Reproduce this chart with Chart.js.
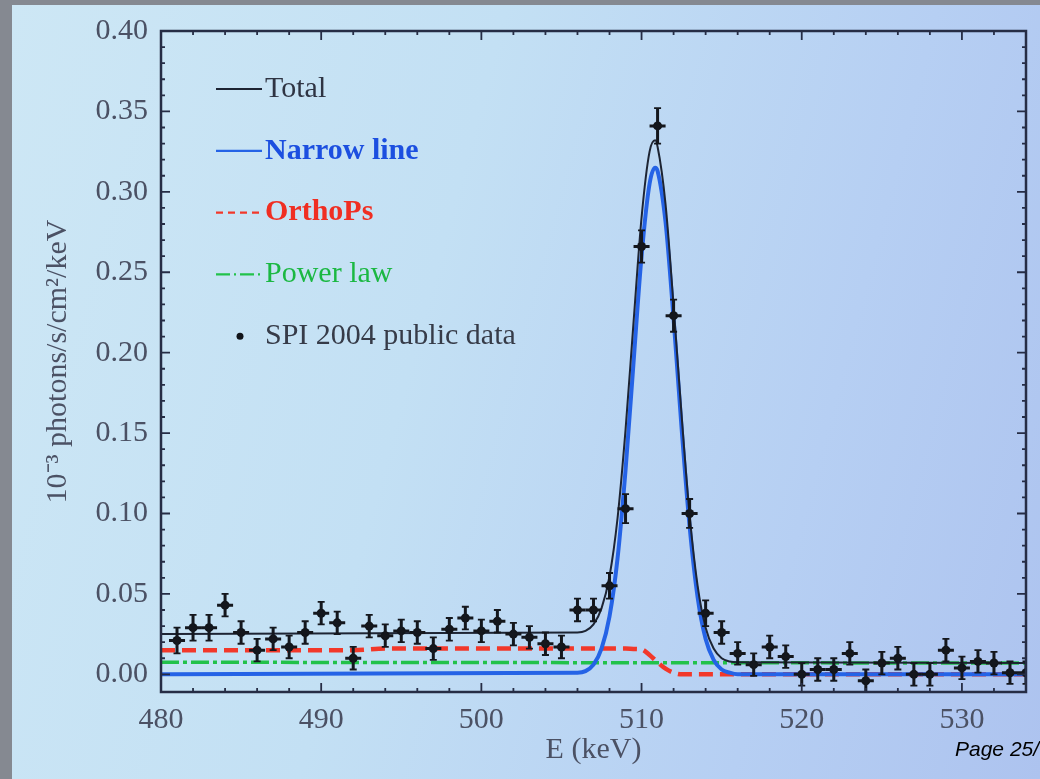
<!DOCTYPE html>
<html lang="en">
<head>
    <meta charset="UTF-8">
    <title>SPI 511 keV line spectrum</title>
    <script src="https://cdn.jsdelivr.net/npm/chart.js"></script>
    <style>
        body {
            margin: 0;
            width: 1040px;
            height: 779px;
            overflow: hidden;
            position: relative;
            background-color: #858991;
        }
        .slide {
            position: absolute;
            left: 12px;
            top: 5px;
            right: 0;
            bottom: 0;
            background: linear-gradient(105deg, #cde7f5 0%, #c3e0f4 40%, #b6cff3 75%, #adc3ef 100%);
        }
        #spectrum {
            position: absolute;
            left: 0;
            top: 0;
        }
        .page {
            position: absolute;
            left: 955px;
            top: 737px;
            font: italic 21px 'Liberation Sans', Arial, sans-serif;
            line-height: 24px;
            color: #000000;
            white-space: nowrap;
        }
    </style>
</head>
<body>
    <div class="slide"></div>
    <canvas id="spectrum" width="1040" height="779"></canvas>
    <div class="page">Page 25/</div>

    <script>
        // SPI 2004 binned spectrum (1 keV bins)
        const spiEnergy = [481, 482, 483, 484, 485, 486, 487, 488, 489, 490,
                           491, 492, 493, 494, 495, 496, 497, 498, 499, 500,
                           501, 502, 503, 504, 505, 506, 507, 508, 509, 510,
                           511, 512, 513, 514, 515, 516, 517, 518, 519, 520,
                           521, 522, 523, 524, 525, 526, 527, 528, 529, 530,
                           531, 532, 533, 534];
        const spiFlux = [0.021, 0.029, 0.029, 0.043, 0.026, 0.015, 0.022, 0.017, 0.026, 0.038,
                         0.032, 0.010, 0.030, 0.024, 0.027, 0.026, 0.016, 0.028, 0.035, 0.027,
                         0.033, 0.025, 0.023, 0.019, 0.017, 0.040, 0.040, 0.055, 0.103, 0.266,
                         0.341, 0.223, 0.100, 0.038, 0.026, 0.013, 0.006, 0.017, 0.011, 0.000,
                         0.003, 0.003, 0.013, -0.004, 0.007, 0.010, 0.000, 0.000, 0.015, 0.004,
                         0.008, 0.007, 0.001, 0.001];
        const spiErr = [0.008, 0.008, 0.008, 0.007, 0.007, 0.007, 0.007, 0.007, 0.007, 0.007,
                        0.007, 0.007, 0.007, 0.007, 0.007, 0.007, 0.007, 0.007, 0.007, 0.007,
                        0.007, 0.007, 0.007, 0.007, 0.007, 0.007, 0.007, 0.008, 0.009, 0.010,
                        0.011, 0.010, 0.009, 0.008, 0.007, 0.007, 0.007, 0.007, 0.007, 0.007,
                        0.007, 0.007, 0.007, 0.007, 0.007, 0.007, 0.007, 0.007, 0.007, 0.007,
                        0.007, 0.007, 0.007, 0.007];
        const binHalfWidth = 0.5;

        // model components
        const totalEnergy = [480, 506, 506.5, 507, 507.5, 508, 508.5, 509, 509.5, 510, 510.5, 510.85,
                             511, 511.5, 512, 512.5, 513, 513.5, 514, 514.5, 515, 515.5, 516, 534];
        const totalFlux = [0.025, 0.026, 0.027, 0.031, 0.041, 0.061, 0.097, 0.152, 0.219, 0.284, 0.325, 0.332,
                           0.328, 0.292, 0.229, 0.161, 0.099, 0.055, 0.029, 0.016, 0.010, 0.008, 0.0075, 0.007];

        const narrowEnergy = [480, 506, 506.5, 507, 507.5, 508, 508.5, 509, 509.5, 510, 510.5, 510.85,
                              511, 511.5, 512, 512.5, 513, 513.5, 514, 514.5, 515, 515.5, 516, 534];
        const narrowFlux = [0.0, 0.001, 0.002, 0.006, 0.016, 0.036, 0.072, 0.127, 0.194, 0.260, 0.305, 0.315,
                            0.313, 0.281, 0.221, 0.153, 0.092, 0.048, 0.022, 0.009, 0.003, 0.001, 0.0, 0.0];

        const orthoEnergy = [480, 492, 494, 509, 509.5, 510, 510.5, 511, 511.5, 512, 512.5, 534];
        const orthoFlux = [0.015, 0.015, 0.016, 0.016, 0.0158, 0.0155, 0.012, 0.0075, 0.0035, 0.001, 0.0, 0.0];

        const powerEnergy = [480, 534];
        const powerFlux = [0.0075, 0.007];

        const xTicks = [480, 490, 500, 510, 520, 530];
        const yTicks = [0.00, 0.05, 0.10, 0.15, 0.20, 0.25, 0.30, 0.35, 0.40];

        const legendOrder = ['Total', 'Narrow line', 'OrthoPs', 'Power law', 'SPI 2004 public data'];
        const boldLabels = ['Narrow line', 'OrthoPs'];

        const toPoints = (xs, ys) => xs.map((v, i) => ({ x: v, y: ys[i] }));

        const frameColor = '#262d45';
        const labelColor = '#4b5164';
        const serif = "'Liberation Serif', 'Times New Roman', serif";

        // box round the plot with inward ticks on all four sides
        const framePlugin = {
            id: 'frame',
            afterDraw(chart) {
                const { ctx, chartArea: a, scales: { x, y } } = chart;
                ctx.save();
                ctx.strokeStyle = frameColor;
                ctx.lineWidth = 2.5;
                ctx.strokeRect(a.left, a.top, a.right - a.left, a.bottom - a.top);
                ctx.lineWidth = 1.8;
                ctx.beginPath();
                for (let e = 480; e <= 534; e += 2) {
                    const px = x.getPixelForValue(e);
                    const len = e % 10 === 0 ? 9 : 4;
                    ctx.moveTo(px, a.bottom); ctx.lineTo(px, a.bottom - len);
                    ctx.moveTo(px, a.top); ctx.lineTo(px, a.top + len);
                }
                for (let k = 0; k <= 40; k++) {
                    const py = y.getPixelForValue(k / 100);
                    const len = k % 5 === 0 ? 9 : 4;
                    ctx.moveTo(a.left, py); ctx.lineTo(a.left + len, py);
                    ctx.moveTo(a.right, py); ctx.lineTo(a.right - len, py);
                }
                ctx.stroke();
                ctx.restore();
            }
        };

        // energy-bin and flux error bars on the SPI points
        const errorBarPlugin = {
            id: 'errorBars',
            afterDatasetsDraw(chart) {
                const { ctx, chartArea: a, scales: { x, y } } = chart;
                ctx.save();
                ctx.beginPath();
                ctx.rect(a.left, a.top, a.right - a.left, a.bottom - a.top);
                ctx.clip();
                ctx.strokeStyle = '#14171d';
                for (let i = 0; i < spiEnergy.length; i++) {
                    const px = x.getPixelForValue(spiEnergy[i]);
                    const py = y.getPixelForValue(spiFlux[i]);
                    const yHi = y.getPixelForValue(spiFlux[i] + spiErr[i]);
                    const yLo = y.getPixelForValue(spiFlux[i] - spiErr[i]);
                    ctx.lineWidth = 3;
                    ctx.beginPath();
                    ctx.moveTo(x.getPixelForValue(spiEnergy[i] - binHalfWidth), py);
                    ctx.lineTo(x.getPixelForValue(spiEnergy[i] + binHalfWidth), py);
                    ctx.moveTo(px, yHi);
                    ctx.lineTo(px, yLo);
                    ctx.stroke();
                    ctx.lineWidth = 1.8;
                    ctx.beginPath();
                    ctx.moveTo(px - 3.5, yHi); ctx.lineTo(px + 3.5, yHi);
                    ctx.moveTo(px - 3.5, yLo); ctx.lineTo(px + 3.5, yLo);
                    ctx.stroke();
                }
                ctx.restore();
            }
        };

        // legend sits inside the plot, top left
        const legendPlugin = {
            id: 'insetLegend',
            afterDraw(chart) {
                const { ctx, chartArea: a } = chart;
                const x0 = a.left + 55;
                const x1 = a.left + 101;
                const tx = a.left + 104;
                ctx.save();
                legendOrder.forEach((name, i) => {
                    const ds = chart.data.datasets.find(d => d.label === name);
                    const yy = a.top + 58 + i * 61.8;
                    if (ds.showLine) {
                        ctx.strokeStyle = ds.borderColor;
                        ctx.lineWidth = 2.2;
                        ctx.setLineDash(ds.legendDash || []);
                        ctx.beginPath();
                        ctx.moveTo(x0, yy);
                        ctx.lineTo(x1, yy);
                        ctx.stroke();
                        ctx.setLineDash([]);
                    } else {
                        ctx.fillStyle = ds.backgroundColor;
                        ctx.beginPath();
                        ctx.arc(a.left + 79, yy, 3.5, 0, Math.PI * 2);
                        ctx.fill();
                    }
                    ctx.font = (boldLabels.includes(name) ? 'bold ' : '') + '30px ' + serif;
                    ctx.fillStyle = ds.textColor;
                    ctx.textBaseline = 'middle';
                    ctx.fillText(name, tx, yy);
                });
                ctx.restore();
            }
        };

        const ctx = document.getElementById('spectrum').getContext('2d');
        new Chart(ctx, {
            type: 'scatter',
            data: {
                datasets: [
                    {
                        label: 'SPI 2004 public data',
                        data: toPoints(spiEnergy, spiFlux),
                        showLine: false,
                        pointRadius: 4.5,
                        backgroundColor: '#111419',
                        borderWidth: 0,
                        textColor: '#363b48',
                        order: 0
                    },
                    {
                        label: 'Total',
                        data: toPoints(totalEnergy, totalFlux),
                        showLine: true,
                        borderColor: '#1d2433',
                        borderWidth: 2,
                        pointRadius: 0,
                        cubicInterpolationMode: 'monotone',
                        textColor: '#2f3443',
                        order: 1
                    },
                    {
                        label: 'Narrow line',
                        data: toPoints(narrowEnergy, narrowFlux),
                        showLine: true,
                        borderColor: '#2563e6',
                        borderWidth: 4,
                        pointRadius: 0,
                        cubicInterpolationMode: 'monotone',
                        textColor: '#1c4fe0',
                        order: 2
                    },
                    {
                        label: 'OrthoPs',
                        data: toPoints(orthoEnergy, orthoFlux),
                        showLine: true,
                        borderColor: '#f2382a',
                        borderWidth: 4.5,
                        borderDash: [14, 7],
                        legendDash: [7, 5],
                        pointRadius: 0,
                        cubicInterpolationMode: 'monotone',
                        textColor: '#f02e22',
                        order: 3
                    },
                    {
                        label: 'Power law',
                        data: toPoints(powerEnergy, powerFlux),
                        showLine: true,
                        borderColor: '#22c24a',
                        borderWidth: 3.5,
                        borderDash: [18, 4, 4, 4],
                        legendDash: [14, 4, 2, 4],
                        pointRadius: 0,
                        textColor: '#1bb842',
                        order: 4
                    }
                ]
            },
            options: {
                responsive: false,
                animation: false,
                layout: {
                    padding: { left: 0, top: 30, right: 14, bottom: 0 }
                },
                plugins: {
                    legend: { display: false },
                    tooltip: { enabled: false }
                },
                scales: {
                    x: {
                        type: 'linear',
                        min: 480,
                        max: 534,
                        afterBuildTicks: (axis) => { axis.ticks = xTicks.map(v => ({ value: v })); },
                        afterFit: (axis) => { axis.height = 87; },
                        grid: { display: false, drawTicks: false },
                        border: { display: false },
                        ticks: {
                            autoSkip: false,
                            maxRotation: 0,
                            padding: 10,
                            color: labelColor,
                            font: { family: serif, size: 30 },
                            callback: (value) => String(value)
                        },
                        title: {
                            display: true,
                            text: 'E (keV)',
                            color: labelColor,
                            font: { family: serif, size: 30 },
                            padding: { top: 0, bottom: 11 }
                        }
                    },
                    y: {
                        type: 'linear',
                        min: -0.011,
                        max: 0.40,
                        afterBuildTicks: (axis) => { axis.ticks = yTicks.map(v => ({ value: v })); },
                        afterFit: (axis) => { axis.width = 161; },
                        grid: { display: false, drawTicks: false },
                        border: { display: false },
                        ticks: {
                            autoSkip: false,
                            padding: 13,
                            color: labelColor,
                            font: { family: serif, size: 30 },
                            callback: (value) => value.toFixed(2)
                        },
                        title: {
                            display: true,
                            text: '10⁻³ photons/s/cm²/keV',
                            color: labelColor,
                            font: { family: serif, size: 30 },
                            padding: { top: 40, bottom: 0 }
                        }
                    }
                }
            },
            plugins: [errorBarPlugin, framePlugin, legendPlugin]
        });
    </script>
</body>
</html>
